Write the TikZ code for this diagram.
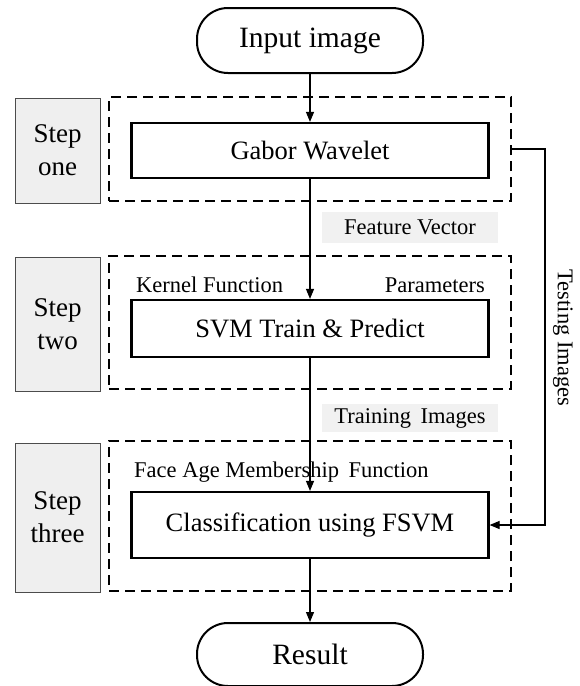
\documentclass[tikz,border=0pt]{standalone}
\usepackage{fontspec}
\setmainfont{Liberation Serif}
\usetikzlibrary{arrows.meta}
\definecolor{stepgray}{HTML}{EFEFEF}
\definecolor{labelgray}{HTML}{F1F1F1}
\begin{document}
\begin{tikzpicture}[x=1pt,y=-1pt,
  term/.style={draw,line width=2pt,rounded corners=31pt,minimum width=226pt,inner sep=0pt,font=\fontsize{29.5}{31}\selectfont},
  proc/.style={draw,line width=2.2pt,minimum width=357pt,inner sep=0pt,font=\fontsize{26.5}{28}\selectfont},
  dbox/.style={draw,line width=2.4pt,dash pattern=on 10pt off 6pt,minimum width=402pt,inner sep=0pt},
  stepbox/.style={draw=black!70,fill=stepgray,line width=1pt,minimum width=85pt,inner sep=0pt,align=center,font=\fontsize{27}{33}\selectfont},
  lbl/.style={inner sep=0pt,font=\fontsize{22.5}{24}\selectfont},
  lblbg/.style={fill=labelgray,minimum width=176pt,inner sep=0pt,font=\fontsize{22.5}{24}\selectfont},
  arr/.style={line width=1.2pt,-{Triangle[length=10pt,width=8pt]}}
]
\useasboundingbox (0,0) rectangle (579,686);
% steps
\node[dbox,minimum height=104pt] (d1) at (310,149) {};
\node[dbox,minimum height=133pt] (d2) at (310,322.5) {};
\node[dbox,minimum height=150pt] (d3) at (310,516) {};
\node[stepbox,minimum height=105pt] (s1) at (57.5,150.5) {Step\\one};
\node[stepbox,minimum height=134pt] (s2) at (57.5,324) {Step\\two};
\node[stepbox,minimum height=149pt] (s3) at (57.5,517.5) {Step\\three};
% main flow
\node[term,minimum height=65pt] (in) at (310,40.5) {Input image};
\node[proc,minimum height=55pt] (gab) at (310,150.5) {Gabor Wavelet};
\node[proc,minimum height=57pt] (svm) at (310,328.5) {SVM Train \& Predict};
\node[proc,minimum height=66pt] (cls) at (310,525) {Classification using FSVM};
\node[term,minimum height=63pt] (res) at (310,654.5) {Result};
% labels
\node[lblbg,minimum height=31pt] (fv) at (410,227.5) {Feature Vector};
\node[lblbg,minimum height=28pt] (tr) at (410,418) {Training\, Images};
\node[lbl,anchor=west] (kf) at (136,285) {Kernel Function};
\node[lbl,anchor=east] (pa) at (485,285) {Parameters};
\node[lbl,anchor=west] (fa) at (134,472) {Face Age Membership\, Function};
\node[lbl,rotate=-90] (ti) at (563,338) {Testing Images};
% connectors
\draw[arr] (in) -- (gab);
\draw[arr] (gab) -- (svm);
\draw[arr] (svm) -- (cls);
\draw[arr] (cls) -- (res);
\coordinate (tx) at (545,300);
\draw[arr] (d1.east) -| (tx) |- (cls.east);
\end{tikzpicture}
\end{document}
